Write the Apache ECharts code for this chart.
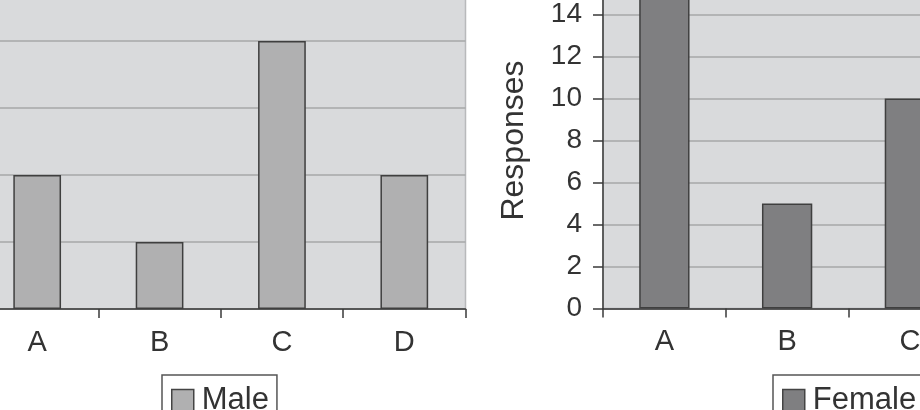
<!DOCTYPE html>
<html>
<head>
<meta charset="utf-8">
<script src="https://cdn.jsdelivr.net/npm/echarts@6/dist/echarts.min.js"></script>
<style>
html,body{margin:0;padding:0;background:#fff;}
#chart{width:920px;height:410px;}
</style>
</head>
<body>
<div id="chart"></div>
<script>
// Data
const categories = ['A', 'B', 'C', 'D'];
const maleValues = [4, 2, 8, 4];
const femaleValues = [16, 5, 10, 7];
const maleName = 'Male';
const femaleName = 'Female';
const yAxisTitle = 'Responses';

const FONT = '"Liberation Sans", Arial, Helvetica, sans-serif';
const TEXT = '#333333';
const PLOT_BG = '#d9dadc';
const GRID_LINE = '#a6a7a9';

const chart = echarts.init(document.getElementById('chart'), null, {renderer: 'canvas'});

function xAxisFor(gridIndex) {
  return {
    type: 'category', gridIndex: gridIndex, data: categories,
    axisLine: {lineStyle: {color: '#3a3a3a', width: 1.5}},
    axisTick: {show: true, length: 9, lineStyle: {color: '#3a3a3a', width: 1.5}},
    axisLabel: {fontSize: 29, color: TEXT, fontFamily: FONT, margin: 19},
    splitLine: {show: false}
  };
}
function yAxisFor(gridIndex, max, withName) {
  const ax = {
    type: 'value', gridIndex: gridIndex, min: 0, max: max, interval: 2,
    axisLine: {show: true, lineStyle: {color: '#3a3a3a', width: 1.5}},
    axisTick: {show: true, length: 10, lineStyle: {color: '#3a3a3a', width: 1.5}},
    axisLabel: {fontSize: 28, color: TEXT, fontFamily: FONT, margin: 21},
    splitLine: {show: true, lineStyle: {color: GRID_LINE, width: 1.5}}
  };
  if (withName) {
    ax.name = yAxisTitle;
    ax.nameLocation = 'middle';
    ax.nameRotate = 90;
    ax.nameGap = 73;
    ax.nameTextStyle = {fontSize: 32, color: TEXT, fontFamily: FONT};
  }
  return ax;
}
function legendFor(name, left) {
  return {
    data: [name], left: left, top: 375, orient: 'horizontal',
    backgroundColor: '#ffffff',
    borderColor: '#555555', borderWidth: 1.5, borderRadius: 0,
    padding: [10, 8, 9, 9],
    itemWidth: 22, itemHeight: 22, icon: 'rect',
    itemStyle: {borderColor: '#444444', borderWidth: 1.5},
    textStyle: {fontSize: 31, color: TEXT, fontFamily: FONT, padding: [0, 0, 0, 3]},
    selectedMode: false
  };
}

const option = {
  animation: false,
  backgroundColor: '#ffffff',
  grid: [
    {left: -24, top: -26, width: 489.5, height: 335, show: true, outerBoundsMode: 'none',
     backgroundColor: PLOT_BG, borderColor: '#b8b9bb', borderWidth: 1.5, containLabel: false},
    {left: 603, top: -27.5, width: 491, height: 336, show: true, outerBoundsMode: 'none',
     backgroundColor: PLOT_BG, borderColor: '#b8b9bb', borderWidth: 1.5, containLabel: false}
  ],
  xAxis: [xAxisFor(0), xAxisFor(1)],
  yAxis: [yAxisFor(0, 10, false), yAxisFor(1, 16, true)],
  legend: [legendFor(maleName, 162), legendFor(femaleName, 773)],
  series: [
    {name: maleName, type: 'bar', xAxisIndex: 0, yAxisIndex: 0, data: maleValues,
     barWidth: '39%', itemStyle: {color: '#b0b0b1', borderColor: '#3f3f3f', borderWidth: 1.5}},
    {name: femaleName, type: 'bar', xAxisIndex: 1, yAxisIndex: 1, data: femaleValues,
     barWidth: '41%', itemStyle: {color: '#7f7f81', borderColor: '#3f3f3f', borderWidth: 1.5}}
  ]
};
chart.setOption(option);
</script>
</body>
</html>
